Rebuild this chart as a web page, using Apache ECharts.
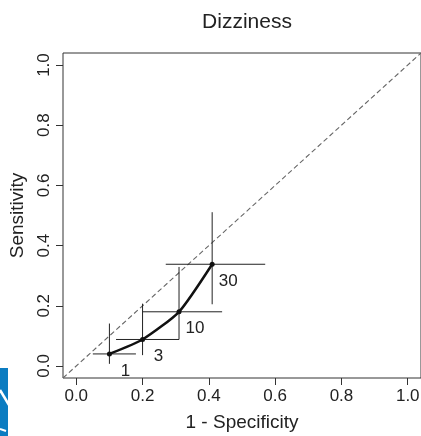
<!DOCTYPE html>
<html>
<head>
<meta charset="utf-8">
<script src="https://cdn.jsdelivr.net/npm/echarts@6/dist/echarts.min.js"></script>
<style>
  html, body { margin: 0; padding: 0; background: #fff; }
  #chart { width: 421px; height: 436px; }
</style>
</head>
<body>
<div id="chart"></div>
<script>
    const thresholds = ["1", "3", "10", "30"];
    const fpr = [0.10, 0.20, 0.31, 0.41];
    const tpr = [0.040, 0.088, 0.180, 0.338];
    const fprLow = [0.05, 0.12, 0.20, 0.27];
    const fprHigh = [0.18, 0.31, 0.44, 0.57];
    const tprLow = [0.007, 0.036, 0.088, 0.205];
    const tprHigh = [0.141, 0.207, 0.329, 0.511];
    const tickValues = [0, 0.2, 0.4, 0.6, 0.8, 1.0];
    const diagonal = [[-0.04, -0.04], [1.04, 1.04]];

    const font = "Liberation Sans, Arial, sans-serif";
    const ink = "#222";

    const chart = echarts.init(document.getElementById("chart"));

    function axis(name, isY) {
        return {
            type: "value",
            min: -0.04,
            max: 1.04,
            name: name,
            nameLocation: "middle",
            nameGap: isY ? 36 : 35,
            nameTextStyle: { fontFamily: font, fontSize: 19, color: ink },
            axisLine: { show: false, onZero: false },
            splitLine: { show: false },
            axisTick: {
                show: true, inside: false, length: 7,
                customValues: tickValues,
                lineStyle: { color: "#333", width: 1 }
            },
            axisLabel: {
                customValues: tickValues,
                rotate: isY ? 90 : 0,
                margin: 10,
                fontFamily: font, fontSize: 17, color: ink,
                formatter: (v) => Number(v).toFixed(1)
            }
        };
    }

    const bars = fpr.map((x, i) => [x, tpr[i], fprLow[i], fprHigh[i], tprLow[i], tprHigh[i]]);

    chart.setOption({
        animation: false,
        title: {
            text: "Dizziness",
            left: 242,
            top: 7,
            textAlign: "center",
            textStyle: { fontFamily: font, fontSize: 21, fontWeight: "normal", color: ink }
        },
        grid: {
            left: 63, right: 0, top: 53, bottom: 58,
            outerBoundsMode: "none",
            containLabel: false,
            show: true, borderColor: "#333", borderWidth: 1, backgroundColor: "transparent"
        },
        xAxis: axis("1 - Specificity", false),
        yAxis: axis("Sensitivity", true),
        graphic: [
            { type: "rect", left: 0, top: 368, shape: { width: 8, height: 68 }, style: { fill: "#0b7cc1" }, silent: true },
            { type: "line", shape: { x1: 0, y1: 390, x2: 9, y2: 405 }, style: { stroke: "#fff", lineWidth: 2.5 }, silent: true },
            { type: "line", shape: { x1: 0, y1: 429, x2: 6, y2: 431 }, style: { stroke: "#fff", lineWidth: 2 }, silent: true }
        ],
        series: [
            {
                type: "line",
                data: diagonal,
                symbol: "none",
                silent: true,
                lineStyle: { color: "#666", width: 1.1, type: [5, 3] },
                z: 1
            },
            {
                type: "custom",
                data: bars,
                encode: { x: [0, 2, 3], y: [1, 4, 5] },
                silent: true,
                renderItem: function (params, api) {
                    const x = api.value(0), y = api.value(1);
                    const a = api.coord([api.value(2), y]);
                    const b = api.coord([api.value(3), y]);
                    const c = api.coord([x, api.value(4)]);
                    const d = api.coord([x, api.value(5)]);
                    const style = { stroke: "#222", lineWidth: 1 };
                    return {
                        type: "group",
                        children: [
                            { type: "line", shape: { x1: a[0], y1: a[1], x2: b[0], y2: b[1] }, style: style },
                            { type: "line", shape: { x1: c[0], y1: c[1], x2: d[0], y2: d[1] }, style: style }
                        ]
                    };
                },
                z: 2
            },
            {
                type: "line",
                data: fpr.map((x, i) => [x, tpr[i]]),
                smooth: 0.2,
                symbol: "circle",
                symbolSize: 5,
                itemStyle: { color: "#111" },
                lineStyle: { color: "#111", width: 2.5 },
                label: {
                    show: true,
                    position: "inside",
                    offset: [16, 17],
                    formatter: (p) => thresholds[p.dataIndex],
                    fontFamily: font, fontSize: 17, color: ink
                },
                z: 3
            }
        ]
    });
</script>
</body>
</html>
